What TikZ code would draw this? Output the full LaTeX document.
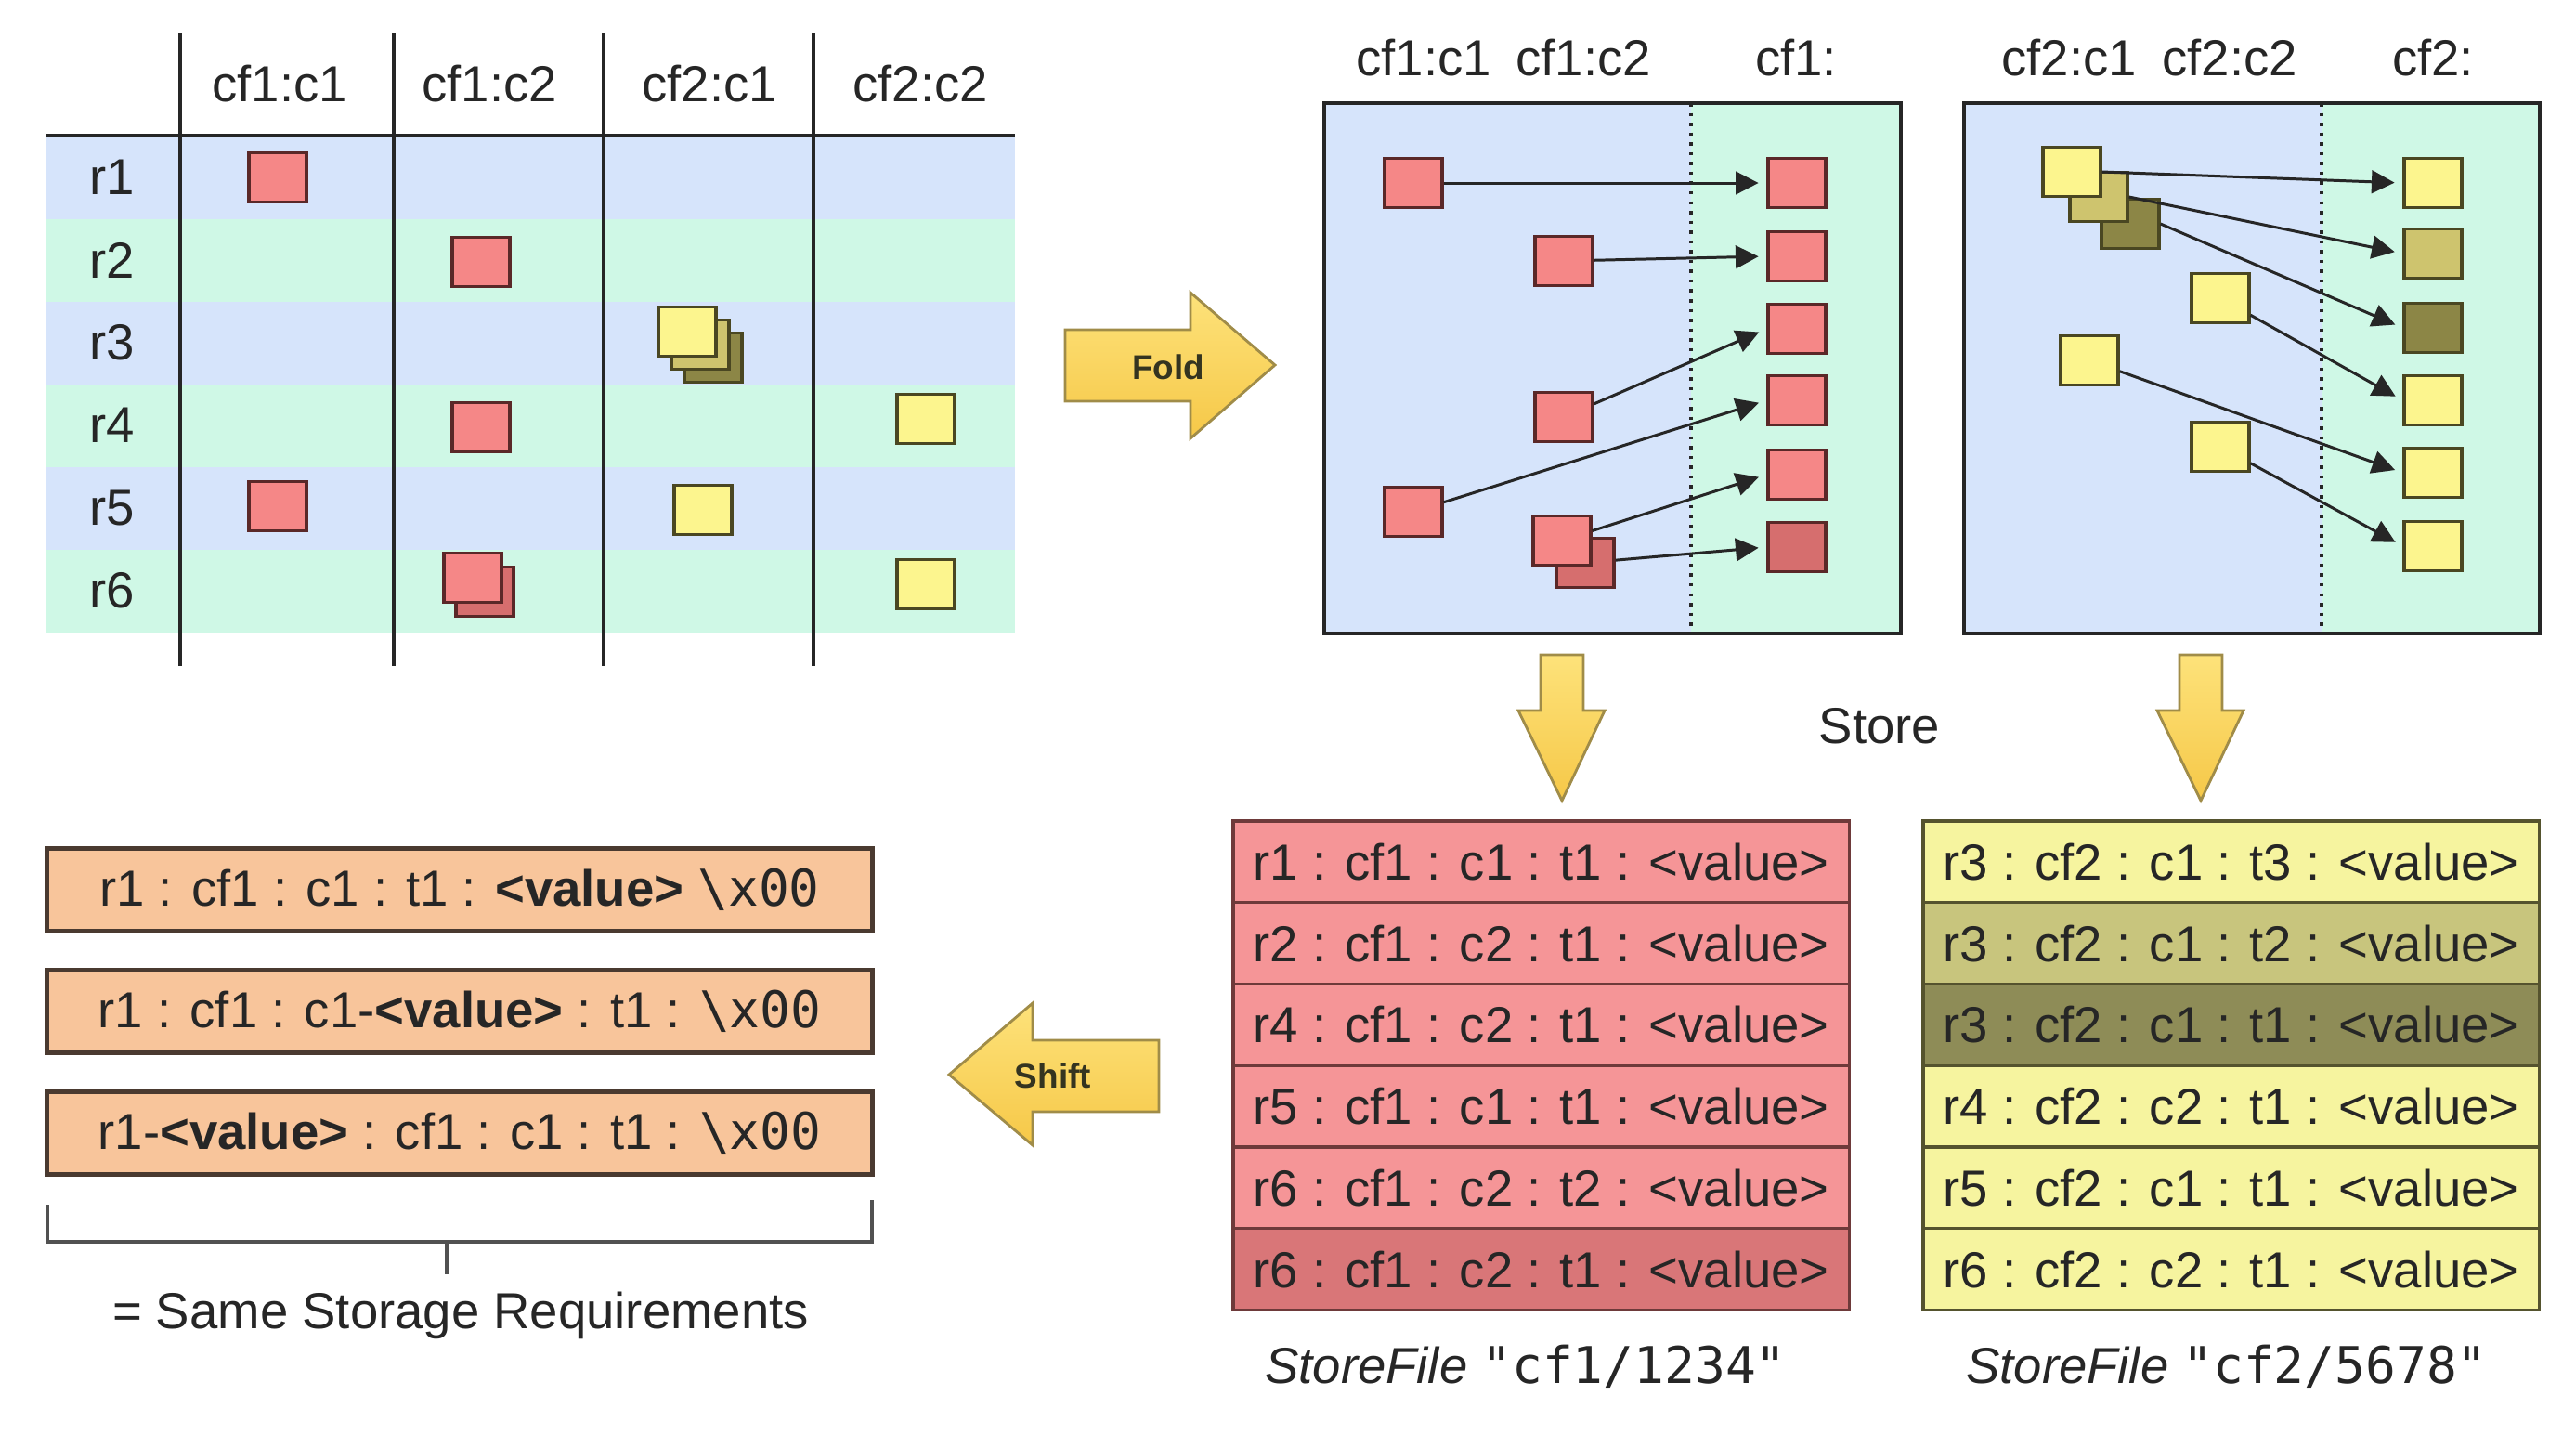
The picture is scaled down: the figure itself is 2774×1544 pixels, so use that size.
\documentclass[tikz,border=0pt]{standalone}
\usepackage{fontspec}
\setmainfont{Liberation Sans}
\setmonofont{DejaVu Sans Mono}
\usetikzlibrary{arrows.meta, positioning}

\definecolor{bandblue}{HTML}{D6E4FB}
\definecolor{bandgreen}{HTML}{CFF8E6}
\definecolor{cellred}{HTML}{F58787}
\definecolor{cellredd}{HTML}{D66E6E}
\definecolor{redline}{HTML}{5A2828}
\definecolor{cellyel}{HTML}{FCF58E}
\definecolor{cellkhaki}{HTML}{CEC46E}
\definecolor{cellolive}{HTML}{8C8646}
\definecolor{yelline}{HTML}{4A4722}
\definecolor{rowred}{HTML}{F59597}
\definecolor{rowredd}{HTML}{D97678}
\definecolor{rowredline}{HTML}{6E3A3A}
\definecolor{rowyel}{HTML}{F6F49F}
\definecolor{rowkhaki}{HTML}{C8C57D}
\definecolor{rowolive}{HTML}{8E8C57}
\definecolor{rowyelline}{HTML}{55532E}
\definecolor{peach}{HTML}{F8C59B}
\definecolor{peachline}{HTML}{4A3A30}
\definecolor{arrowtop}{HTML}{FDE27A}
\definecolor{arrowbot}{HTML}{F6C848}
\definecolor{arrowline}{HTML}{A08C48}
\definecolor{ink}{HTML}{262626}

\newcommand{\lblfont}{\fontsize{15.5}{18}\selectfont}
\newcommand{\tagfont}{\fontsize{10.5}{12}\selectfont\bfseries}

\tikzstyle{every picture} = [x=0.01cm, y=-0.01cm]

\begin{document}
\begin{tikzpicture} [text=ink, font=\lblfont,
    cell/.style={rectangle, draw=redline, line width=0.9pt, minimum width=0.62cm, minimum height=0.53cm, inner sep=0pt},
    red cell/.style={cell, fill=cellred},
    dark cell/.style={cell, fill=cellredd},
    yel cell/.style={cell, draw=yelline, fill=cellyel},
    khaki cell/.style={cell, draw=yelline, fill=cellkhaki},
    olive cell/.style={cell, draw=yelline, fill=cellolive},
    flow/.style={-{Triangle[length=7pt, width=7pt]}, line width=0.85pt, draw=ink, shorten >=2.5pt},
    fat arrow/.style={draw=arrowline, line width=0.8pt, top color=arrowtop, bottom color=arrowbot},
    rec/.style={rectangle, draw, line width=0.9pt, minimum width=6.63cm, minimum height=0.877cm, inner sep=0pt, outer sep=0pt},
    keybox/.style={rectangle, draw=peachline, line width=1.4pt, fill=peach, minimum width=8.88cm, minimum height=0.89cm, inner sep=0pt}]
    \useasboundingbox (0,0) rectangle (2774,1544);

    % row table
    \fill[bandblue]  (50,147) rectangle (1093,236);
    \fill[bandgreen] (50,236) rectangle (1093,325);
    \fill[bandblue]  (50,325) rectangle (1093,414);
    \fill[bandgreen] (50,414) rectangle (1093,503);
    \fill[bandblue]  (50,503) rectangle (1093,592);
    \fill[bandgreen] (50,592) rectangle (1093,681);
    \draw[ink, line width=1.4pt] (50,146) -- (1093,146);
    \draw[ink, line width=1pt] (194,35) -- (194,717) (424,35) -- (424,717)
                               (650,35) -- (650,717) (876,35) -- (876,717);

    \node (col 1) at (301,90) {cf1:c1};
    \node (col 2) at (527,90) {cf1:c2};
    \node (col 3) at (764,90) {cf2:c1};
    \node (col 4) at (991,90) {cf2:c2};
    \node (row 1) at (121,191) {r1};
    \node (row 2) at (121,280) {r2};
    \node (row 3) at (121,369) {r3};
    \node (row 4) at (121,458) {r4};
    \node (row 5) at (121,547) {r5};
    \node (row 6) at (121,636) {r6};

    \node (cell r1)  [red cell] at (299,191) {};
    \node (cell r2)  [red cell] at (518,282) {};
    \node (cell r3c) [olive cell] at (768,385) {};
    \node (cell r3b) [khaki cell] at (754,371) {};
    \node (cell r3a) [yel cell] at (740,357) {};
    \node (cell r4a) [red cell] at (518,460) {};
    \node (cell r4b) [yel cell] at (997,451) {};
    \node (cell r5a) [red cell] at (299,545) {};
    \node (cell r5b) [yel cell] at (757,549) {};
    \node (cell r6b) [dark cell] at (522,637) {};
    \node (cell r6a) [red cell] at (509,622) {};
    \node (cell r6c) [yel cell] at (997,629) {};

    % fold
    \draw[fat arrow] (1147,355) -- (1282,355) -- (1282,315) -- (1373,393)
                     -- (1282,472) -- (1282,432) -- (1147,432) -- cycle;
    \node (fold) [font=\tagfont, text=ink!85!olive] at (1258,395) {Fold};

    % store file cf1
    \fill[bandblue]  (1426,111) rectangle (1821,682);
    \fill[bandgreen] (1821,111) rectangle (2047,682);
    \draw[ink, dotted, line width=1pt] (1821,111) -- (1821,682);
    \draw[ink, line width=1.2pt] (1426,111) rectangle (2047,682);
    \node (head 1) at (1533,62) {cf1:c1};
    \node (head 2) at (1705,62) {cf1:c2};
    \node (head 3) at (1934,62) {cf1:};

    \node (in 1) [red cell] at (1522,197) {};
    \node (in 2) [red cell] at (1684,281) {};
    \node (in 3) [red cell] at (1684,449) {};
    \node (in 4) [red cell] at (1522,551) {};
    \node (in 6) [dark cell] at (1707,606) {};
    \node (in 5) [red cell] at (1682,582) {};
    \node (out 1) [red cell] at (1935,197) {};
    \node (out 2) [red cell] at (1935,276) {};
    \node (out 3) [red cell] at (1935,354) {};
    \node (out 4) [red cell] at (1935,431) {};
    \node (out 5) [red cell] at (1935,511) {};
    \node (out 6) [dark cell] at (1935,589) {};

    \path (in 1) edge[flow] (out 1.west)
          (in 2) edge[flow] (out 2.west)
          (in 3) edge[flow] (out 3.west)
          (in 4) edge[flow] (out 4.west)
          (in 5) edge[flow] (out 5.west)
          (in 6) edge[flow] (out 6.west);

    % store file cf2
    \fill[bandblue]  (2115,111) rectangle (2500,682);
    \fill[bandgreen] (2500,111) rectangle (2735,682);
    \draw[ink, dotted, line width=1pt] (2500,111) -- (2500,682);
    \draw[ink, line width=1.2pt] (2115,111) rectangle (2735,682);
    \node (head 4) at (2228,62) {cf2:c1};
    \node (head 5) at (2401,62) {cf2:c2};
    \node (head 6) at (2620,62) {cf2:};

    \node (yin 3) [olive cell] at (2294,241) {};
    \node (yin 2) [khaki cell] at (2260,212) {};
    \node (yin 1) [yel cell] at (2231,185) {};
    \node (yin 4) [yel cell] at (2391,321) {};
    \node (yin 5) [yel cell] at (2250,388) {};
    \node (yin 6) [yel cell] at (2391,481) {};
    \node (yout 1) [yel cell] at (2620,197) {};
    \node (yout 2) [khaki cell] at (2620,273) {};
    \node (yout 3) [olive cell] at (2620,353) {};
    \node (yout 4) [yel cell] at (2620,431) {};
    \node (yout 5) [yel cell] at (2620,509) {};
    \node (yout 6) [yel cell] at (2620,588) {};

    \path (yin 1.east) edge[flow] (yout 1.west)
          (yin 2.east) edge[flow] (yout 2.west)
          (yin 3.east) edge[flow] (yout 3.west)
          (yin 4) edge[flow] (yout 4.west)
          (yin 5) edge[flow] (yout 5.west)
          (yin 6) edge[flow] (yout 6.west);

    % store
    \draw[fat arrow] (1659,705) -- (1705,705) -- (1705,765) -- (1728,765)
                     -- (1682,862) -- (1635,765) -- (1659,765) -- cycle;
    \draw[fat arrow] (2347,705) -- (2393,705) -- (2393,765) -- (2416,765)
                     -- (2370,862) -- (2323,765) -- (2347,765) -- cycle;
    \node (store) at (2024,782) {Store};

    \node (sf1 1) [rec, draw=rowredline, fill=rowred, anchor=north west] at (1328,884) {r1 : cf1 : c1 : t1 : <value>};
    \node (sf1 2) [rec, draw=rowredline, fill=rowred, below=0pt of sf1 1] {r2 : cf1 : c2 : t1 : <value>};
    \node (sf1 3) [rec, draw=rowredline, fill=rowred, below=0pt of sf1 2] {r4 : cf1 : c2 : t1 : <value>};
    \node (sf1 4) [rec, draw=rowredline, fill=rowred, below=0pt of sf1 3] {r5 : cf1 : c1 : t1 : <value>};
    \node (sf1 5) [rec, draw=rowredline, fill=rowred, below=0pt of sf1 4] {r6 : cf1 : c2 : t2 : <value>};
    \node (sf1 6) [rec, draw=rowredline, fill=rowredd, below=0pt of sf1 5] {r6 : cf1 : c2 : t1 : <value>};

    \node (sf2 1) [rec, draw=rowyelline, fill=rowyel, anchor=north west] at (2071,884) {r3 : cf2 : c1 : t3 : <value>};
    \node (sf2 2) [rec, draw=rowyelline, fill=rowkhaki, below=0pt of sf2 1] {r3 : cf2 : c1 : t2 : <value>};
    \node (sf2 3) [rec, draw=rowyelline, fill=rowolive, below=0pt of sf2 2] {r3 : cf2 : c1 : t1 : <value>};
    \node (sf2 4) [rec, draw=rowyelline, fill=rowyel, below=0pt of sf2 3] {r4 : cf2 : c2 : t1 : <value>};
    \node (sf2 5) [rec, draw=rowyelline, fill=rowyel, below=0pt of sf2 4] {r5 : cf2 : c1 : t1 : <value>};
    \node (sf2 6) [rec, draw=rowyelline, fill=rowyel, below=0pt of sf2 5] {r6 : cf2 : c2 : t1 : <value>};

    \node (name 1) at (1643,1471) {\textit{StoreFile} \texttt{"cf1/1234"}};
    \node (name 2) at (2398,1471) {\textit{StoreFile} \texttt{"cf2/5678"}};

    % shift
    \draw[fat arrow] (1248,1120) -- (1112,1120) -- (1112,1080) -- (1022,1157)
                     -- (1112,1233) -- (1112,1197) -- (1248,1197) -- cycle;
    \node (shift) [font=\tagfont, text=ink!85!olive] at (1134,1158) {Shift};

    \node (key 1) [keybox] at (495,958) {r1 : cf1 : c1 : t1 : \textbf{<value>} \texttt{\textbackslash x00}};
    \node (key 2) [keybox] at (495,1089) {r1 : cf1 : c1-\textbf{<value>} : t1 : \texttt{\textbackslash x00}};
    \node (key 3) [keybox] at (495,1220) {r1-\textbf{<value>} : cf1 : c1 : t1 : \texttt{\textbackslash x00}};

    \draw[ink!80, line width=1pt] (51,1297) |- (939,1337) -- (939,1292)
                                  (481,1337) -- (481,1372);
    \node (same) at (496,1416) {= Same Storage Requirements};
\end{tikzpicture}
\end{document}
